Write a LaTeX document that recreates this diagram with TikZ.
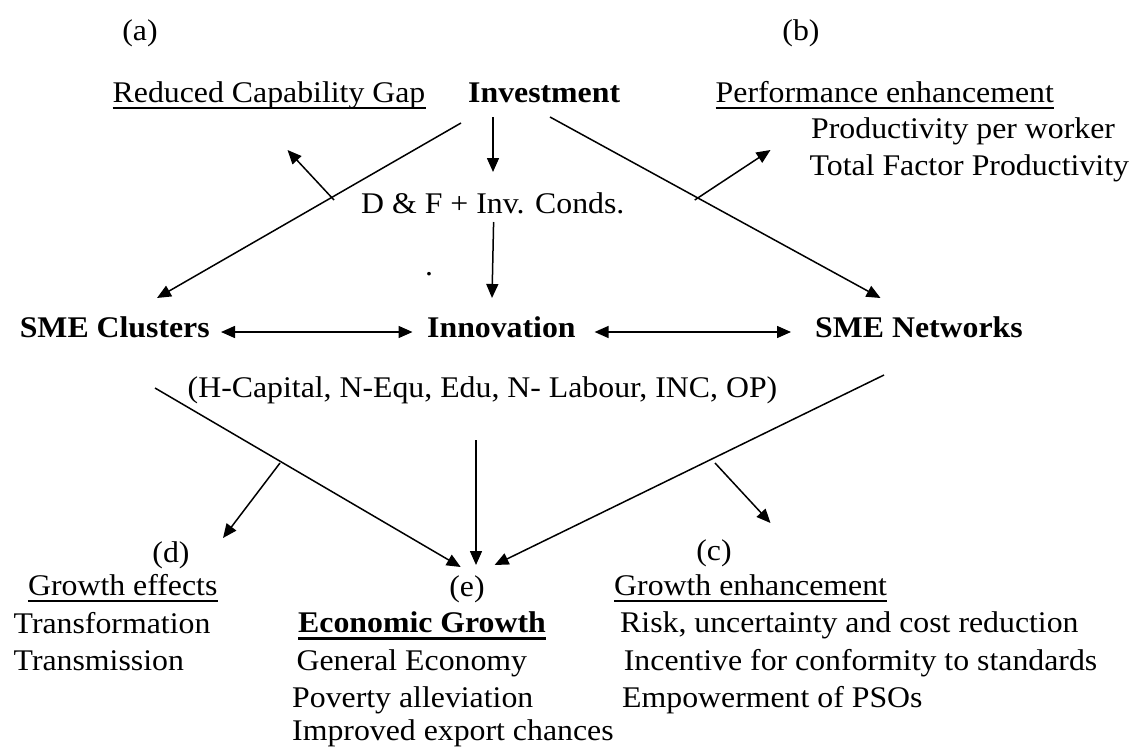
\documentclass[tikz,border=0pt]{standalone}
\usepackage{fontspec}
\setmainfont{Liberation Serif}[FakeStretch=1.06]
\usetikzlibrary{arrows.meta}
\begin{document}
\begin{tikzpicture}[x=1pt,y=-1pt,
  txt/.style={anchor=base west, inner sep=0pt, font=\fontsize{30}{36}\selectfont},
  btxt/.style={anchor=base west, inner sep=0pt, font=\fontsize{30}{36}\selectfont\bfseries},
  lbl/.style={anchor=base, inner sep=0pt, font=\fontsize{30}{36}\selectfont},
  arr/.style={line width=1.5pt, -{Triangle[length=14pt,width=12pt]}},
  darr/.style={line width=1.5pt, {Triangle[length=14pt,width=12pt]}-{Triangle[length=14pt,width=12pt]}},
  ulin/.style={line width=2pt}]
\useasboundingbox (0,0) rectangle (1131,747);
% labels
\node[lbl] (la) at (140,40) {(a)};
\node[lbl] (lb) at (801,40) {(b)};
\node[lbl] (ld) at (171,562) {(d)};
\node[lbl] (le) at (467,596) {(e)};
\node[lbl] (lc) at (714,560) {(c)};
% top texts
\node[txt] (red) at (112.5,102) {Reduced Capability Gap};
\node[btxt] (inv) at (468,102) {Investment};
\node[txt] (perf) at (715.5,102) {Performance enhancement};
\node[txt] (prod) at (811,138) {Productivity per worker};
\node[txt] (tfp) at (809.5,175) {Total Factor Productivity};
\node[txt] (df) at (361,213) {D \& F + Inv. Conds.};
\node[txt] (dot) at (425,275) {.};
% middle
\node[btxt] (clu) at (19.6,337) {SME Clusters};
\node[btxt] (inn) at (427,337) {Innovation};
\node[btxt] (net) at (815,337) {SME Networks};
\node[txt] (hcap) at (187.5,397) {(H-Capital, N-Equ, Edu, N- Labour, INC, OP)};
% bottom
\node[txt] (ge) at (27.9,595) {Growth effects};
\node[txt] (tf) at (13.5,633) {Transformation};
\node[txt] (tm) at (13.5,670) {Transmission};
\node[btxt] (eg) at (298,632) {Economic Growth};
\node[txt] (gen) at (296.4,670) {General Economy};
\node[txt] (pov) at (292,707) {Poverty alleviation};
\node[txt] (imp) at (292,740) {Improved export chances};
\node[txt] (gh) at (614,595) {Growth enhancement};
\node[txt] (risk) at (620,632) {Risk, uncertainty and cost reduction};
\node[txt] (inc) at (623.7,670) {Incentive for conformity to standards};
\node[txt] (emp) at (622,707) {Empowerment of PSOs};
% underlines
\foreach \n in {red,perf,ge,gh}
  \draw[ulin] ([yshift=-6pt]\n.base west) -- ([yshift=-6pt]\n.base east);
\draw[line width=2.8pt] ([yshift=-6.5pt]eg.base west) -- ([yshift=-6.5pt]eg.base east);
% coordinates
\coordinate (invS) at (493,117);
\coordinate (dfN) at (493,172);
\coordinate (dfS) at (493.6,222);
\coordinate (innN) at (492,298);
\coordinate (invSW) at (461,123);
\coordinate (cluNE) at (157,298);
\coordinate (aS) at (334,200);
\coordinate (aE) at (287.5,150);
\coordinate (invSE) at (550,117);
\coordinate (netNW) at (880.5,298);
\coordinate (bS) at (694.7,200);
\coordinate (bE) at (770.5,150);
\coordinate (cluE) at (221,332);
\coordinate (innW) at (412.5,332);
\coordinate (innE) at (594.6,332);
\coordinate (netW) at (791,332);
\coordinate (cluS) at (155,388);
\coordinate (egNW) at (460.7,567);
\coordinate (dS) at (280,463);
\coordinate (dE) at (223,538);
\coordinate (innS) at (476,440);
\coordinate (egN) at (476,565);
\coordinate (netS) at (884,375);
\coordinate (egNE) at (494.6,565);
\coordinate (cS) at (715,463);
\coordinate (cE) at (770.5,523);
% connectors
\draw[arr] (invS) -- (dfN);
\draw[arr] (dfS) -- (innN);
\draw[arr] (invSW) -- (cluNE);
\draw[arr] (aS) -- (aE);
\draw[arr] (invSE) -- (netNW);
\draw[arr] (bS) -- (bE);
\draw[darr] (cluE) -- (innW);
\draw[darr] (innE) -- (netW);
\draw[arr] (cluS) -- (egNW);
\draw[arr] (dS) -- (dE);
\draw[arr] (innS) -- (egN);
\draw[arr] (netS) -- (egNE);
\draw[arr] (cS) -- (cE);
\end{tikzpicture}
\end{document}
